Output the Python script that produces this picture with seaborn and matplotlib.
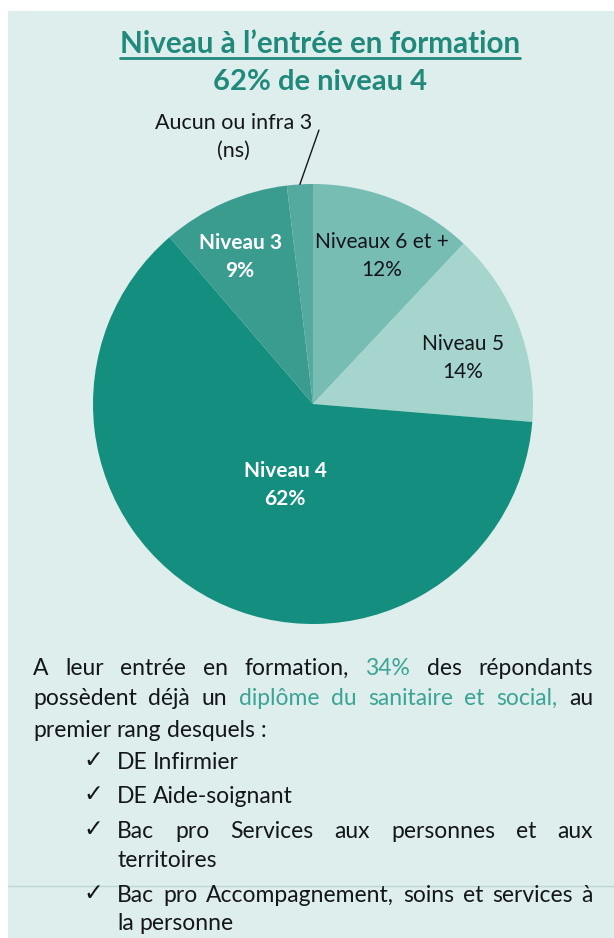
import matplotlib
matplotlib.use("Agg")
import matplotlib.pyplot as plt
import matplotlib.transforms as mtransforms
from matplotlib.patches import Rectangle
from matplotlib.lines import Line2D
import numpy as np
import seaborn as sns

# ---------------- data ----------------
categories = ["Niveaux 6 et +", "Niveau 5", "Niveau 4", "Niveau 3", "Aucun ou infra 3"]
shares = [12.0, 14.3, 62.4, 9.4, 1.9]
significant = [True, True, True, True, False]
slice_colors = ["#77BDB3", "#A5D5CD", "#138E7F", "#3A9B8F", "#55AAA0"]

title = "Niveau à l’entrée en formation"
subtitle = "62% de niveau 4"

intro_lines = [
    [("A leur entrée en formation,", False), ("34%", True), ("des répondants", False)],
    [("possèdent déjà un", False), ("diplôme du sanitaire et social,", True), ("au", False)],
    [("premier rang desquels :", False)],
]
bullets = [
    ["DE Infirmier"],
    ["DE Aide-soignant"],
    ["Bac pro Services aux personnes et aux", "territoires"],
    ["Bac pro Accompagnement, soins et services à", "la personne"],
]

# ---------------- style ----------------
BG = "#DDEEEC"
TEAL = "#21897B"
TEAL_LIGHT = "#3CA395"
DARK = "#15151C"

sns.set_theme(style="white")
plt.rcParams["font.family"] = ["Lato", "DejaVu Sans"]

W, H = 614, 938
fig = plt.figure(figsize=(W / 100, H / 100), dpi=100, facecolor="white")
px = mtransforms.Affine2D().scale(1 / W, -1 / H).translate(0, 1) + fig.transFigure
fig.patches.append(Rectangle((8, 11), W - 8, H - 11, transform=px,
                             facecolor=BG, edgecolor="none", zorder=-5))
renderer = fig.canvas.get_renderer()

# ---------------- title ----------------
t = fig.text(320, 53, title, transform=px, fontsize=21.3, fontweight="bold",
             color=TEAL, ha="center", va="baseline")
bb = t.get_window_extent(renderer)
fig.add_artist(Line2D([bb.x0, bb.x1], [58, 58], transform=px, color=TEAL, lw=2))
fig.text(320, 90, subtitle, transform=px, fontsize=21, fontweight="bold",
         color=TEAL, ha="center", va="baseline")

# ---------------- pie ----------------
cx, cy, r = 313, 404, 220
ax = fig.add_axes([(cx - r) / W, (H - cy - r) / H, 2 * r / W, 2 * r / H])
ax.set_zorder(2)
wedges, _ = ax.pie(shares, colors=slice_colors, startangle=90, counterclock=False,
                   radius=1, wedgeprops=dict(linewidth=0, edgecolor="none"))
ax.set_xlim(-1, 1)
ax.set_ylim(-1, 1)
ax.axis("off")

label_dist = [0.742, 0.713, 0.39, 0.746]
label_rot = [-3.4, -4.0, 8.0, 2.6]
label_color = [DARK, DARK, "white", "white"]
label_weight = ["normal", "normal", "bold", "bold"]
for i, w in enumerate(wedges):
    mid_deg = (w.theta1 + w.theta2) / 2
    txt = f"{categories[i]}\n{shares[i]:.0f}%" if significant[i] else f"{categories[i]}\n(ns)"
    if i < 4:
        a = np.deg2rad(mid_deg + label_rot[i])
        d = label_dist[i]
        ax.text(d * np.cos(a), d * np.sin(a), txt, ha="center", va="center",
                fontsize=15, color=label_color[i], fontweight=label_weight[i],
                linespacing=1.5)
    else:
        a = np.deg2rad(mid_deg)
        ax.plot([np.cos(a), 0.027], [np.sin(a), 1.245], color=DARK, lw=1,
                clip_on=False)
        ax.text(-0.36, 1.215, txt, ha="center", va="center", fontsize=15.5,
                color=DARK, linespacing=1.5, clip_on=False)

# ---------------- paragraph ----------------
FS = 16.5
space_w = FS * 100 / 72 * 0.24


def place_line(segments, y, x0, x1, justify):
    texts = []
    for seg, hl in segments:
        for word in seg.split():
            texts.append(fig.text(0, y, word, transform=px, fontsize=FS,
                                  color=TEAL_LIGHT if hl else DARK,
                                  ha="left", va="baseline"))
    widths = [tx.get_window_extent(renderer).width for tx in texts]
    if justify and len(texts) > 1:
        gap = (x1 - x0 - sum(widths)) / (len(texts) - 1)
    else:
        gap = space_w
    x = x0
    for tx, wd in zip(texts, widths):
        tx.set_x(x)
        x += wd + gap


intro_y = [675, 705, 737]
intro_just = [True, True, False]
for segs, y, j in zip(intro_lines, intro_y, intro_just):
    place_line(segs, y, 33, 593, j)

bullet_y = [[769], [803], [838, 867], [902, 930]]
for lines, ys in zip(bullets, bullet_y):
    fig.text(83, ys[0] - 2, "✓", transform=px, fontsize=17, color=DARK,
             family="DejaVu Sans", fontweight="bold", ha="left", va="baseline")
    for k, (line, y) in enumerate(zip(lines, ys)):
        place_line([(line, False)], y, 117, 593, k == 0 and len(lines) > 1)

fig.add_artist(Line2D([8, W], [886, 886], transform=px, color="#BCD8D3", lw=1, zorder=1))

fig.savefig("out.png", dpi=100, facecolor="white")
